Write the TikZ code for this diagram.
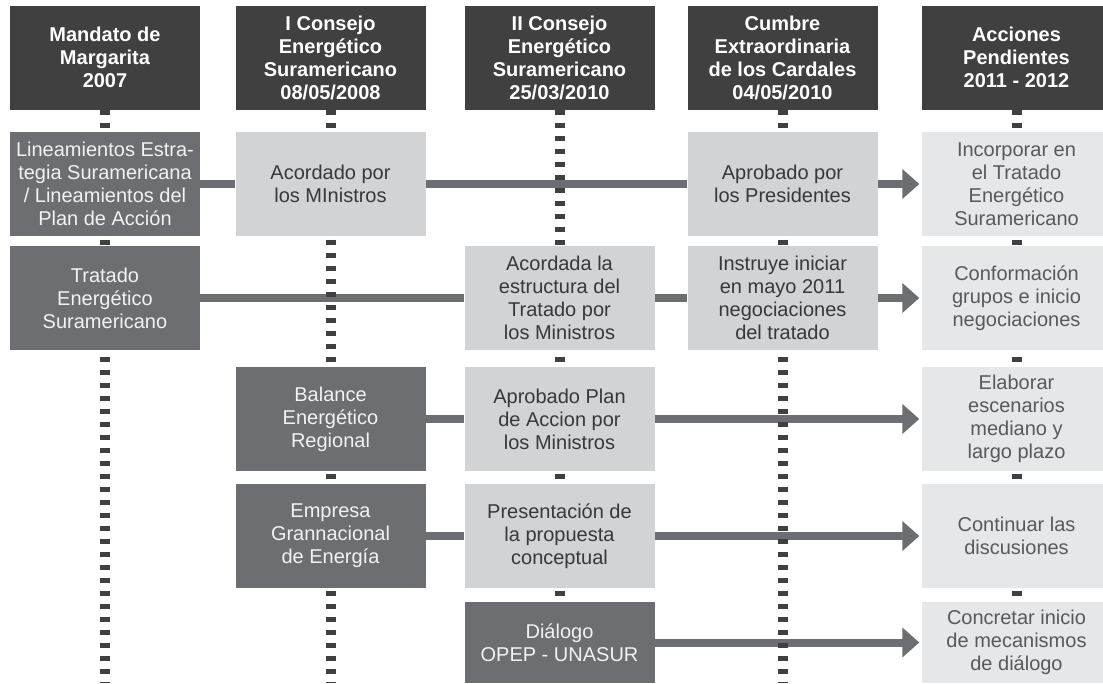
\documentclass[tikz,border=0pt]{standalone}
\usepackage{fontspec}
\setmainfont{Liberation Sans}
\usetikzlibrary{arrows.meta, backgrounds}

\definecolor{headfill}{HTML}{404041}
\definecolor{darkfill}{HTML}{6D6E71}
\definecolor{midfill}{HTML}{D1D3D4}
\definecolor{lightfill}{HTML}{E6E7E8}

\tikzset{
  box/.style={minimum width=190pt, minimum height=104pt, inner sep=0pt,
    align=center, font=\fontsize{20}{23}\selectfont},
  headbox/.style={box, fill=headfill, text=white,
    font=\bfseries\fontsize{20}{23}\selectfont},
  darkbox/.style={box, fill=darkfill, text=white!95!black},
  midbox/.style={box, fill=midfill, text=black!78},
  lightbox/.style={box, fill=lightfill, text=black!65},
  link/.style={line width=8pt, darkfill},
  linkarrow/.style={link, -{Triangle[length=17pt, width=29pt]}, shorten >=2pt},
  dotline/.style={line width=10pt, headfill, dash pattern=on 5pt off 8pt}
}

\begin{document}
\begin{tikzpicture}[x=1pt, y=-1pt]
		\def\ca{105}
		\def\cb{330.5}
		\def\cc{559.5}
		\def\cd{782.5}
		\def\ce{1016.5}
		
		\path[use as bounding box, clip] (0,0) rectangle (1103,683);
		
		% headers
		\node[headbox] (h1) at (\ca,57.5) {Mandato de\\Margarita\\2007};
		\node[headbox] (h2) at (\cb,57.5) {I Consejo\\Energético\\Suramericano\\08/05/2008};
		\node[headbox] (h3) at (\cc,57.5) {II Consejo\\Energético\\Suramericano\\25/03/2010};
		\node[headbox] (h4) at (\cd,57.5) {Cumbre\\Extraordinaria\\de los Cardales\\04/05/2010};
		\node[headbox] (h5) at (\ce,57.5) {Acciones\\Pendientes\\2011 - 2012};
		
		% row 1
		\node[darkbox] (lin) at (\ca,184) {Lineamientos Estra-\\tegia Suramericana\\/ Lineamientos del\\Plan de Acción};
		\node[midbox] (acmin) at (\cb,184) {Acordado por\\los MInistros};
		\node[midbox] (appres) at (\cd,184) {Aprobado por\\los Presidentes};
		\node[lightbox] (incorp) at (\ce,184) {Incorporar en\\el Tratado\\Energético\\Suramericano};
		
		% row 2
		\node[darkbox] (trat) at (\ca,298) {Tratado\\Energético\\Suramericano};
		\node[midbox] (acest) at (\cc,298) {Acordada la\\estructura del\\Tratado por\\los Ministros};
		\node[midbox] (instr) at (\cd,298) {Instruye iniciar\\en mayo 2011\\negociaciones\\del tratado};
		\node[lightbox] (conf) at (\ce,298) {Conformación\\grupos e inicio\\negociaciones};
		
		% row 3
		\node[darkbox] (bal) at (\cb,419) {Balance\\Energético\\Regional};
		\node[midbox] (applan) at (\cc,419) {Aprobado Plan\\de Accion por\\los Ministros};
		\node[lightbox] (elab) at (\ce,419) {Elaborar\\escenarios\\mediano y\\largo plazo};
		
		% row 4
		\node[darkbox] (empr) at (\cb,536) {Empresa\\Grannacional\\de Energía};
		\node[midbox] (pres) at (\cc,536) {Presentación de\\la propuesta\\conceptual};
		\node[lightbox] (cont) at (\ce,536) {Continuar las\\discusiones};
		
		% row 5
		\node[darkbox, minimum height=81pt] (dial) at (\cc,642.5) {Diálogo\\OPEP - UNASUR};
		\node[lightbox, minimum height=81pt] (concr) at (\ce,642.5) {Concretar inicio\\de mecanismos\\de diálogo};
		
		\begin{scope}[on background layer]
		\draw[link] (lin) -- (acmin);
		\draw[link] (acmin) -- (appres);
		\draw[linkarrow] (appres) -- (incorp);
		
		\draw[link] (trat) -- (acest);
		\draw[link] (acest) -- (instr);
		\draw[linkarrow] (instr) -- (conf);
		
		\draw[link] (bal) -- (applan);
		\draw[linkarrow] (applan) -- (elab);
		
		\draw[link] (empr) -- (pres);
		\draw[linkarrow] (pres) -- (cont);
		
		\draw[linkarrow] (dial) -- (concr);
		
		\foreach \h in {h1,h2,h3,h4,h5}
			\draw[dotline] (\h.south) -- (\h.south |- 0,683);
		\end{scope}
	\end{tikzpicture}
\end{document}
